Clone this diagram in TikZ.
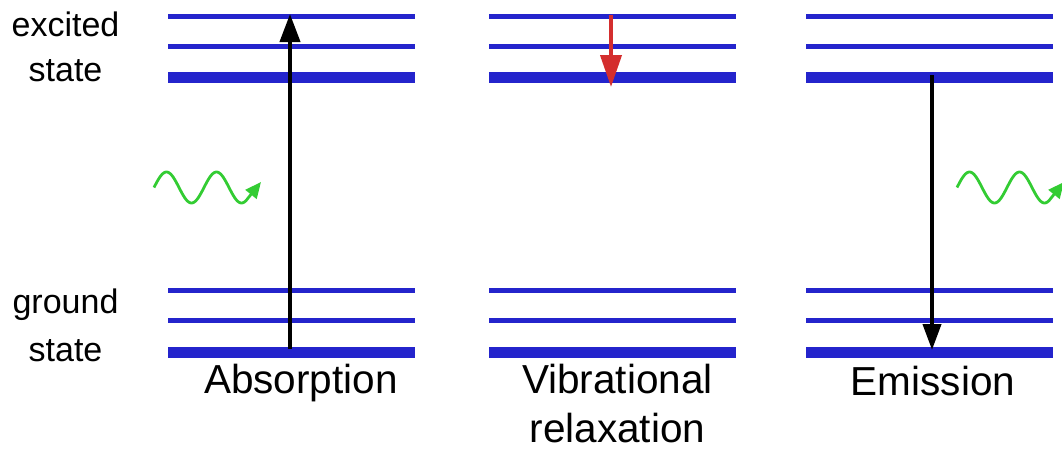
\documentclass[tikz,border=0pt]{standalone}
\usepackage{fontspec}
\setmainfont{Liberation Sans}
\usetikzlibrary{arrows.meta}

\definecolor{levelblue}{RGB}{36,36,204}
\definecolor{photongreen}{RGB}{51,204,51}
\definecolor{relaxred}{RGB}{212,46,46}

\tikzset{
  thinlevel/.style={levelblue, line width=5pt},
  thicklevel/.style={levelblue, line width=11pt},
  transition/.style={black, line width=4pt, -{Triangle[length=28pt,width=20pt]}},
  relax/.style={relaxred, line width=4pt, -{Triangle[length=32pt,width=21pt]}},
  photon/.style={photongreen, line width=2.8pt, -{Triangle[length=16pt,width=14pt]}},
  sidelabel/.style={anchor=base, align=center, inner sep=0pt},
  caption/.style={anchor=base, align=center, inner sep=0pt, font=\fontsize{40.5}{49}\selectfont}
}

% one set of energy levels: three excited and three ground levels
\newcommand{\levelset}[2]{%
  \draw[thinlevel]  (#1,16.5)  -- (#2,16.5);
  \draw[thinlevel]  (#1,46.5)  -- (#2,46.5);
  \draw[thicklevel] (#1,77.5)  -- (#2,77.5);
  \draw[thinlevel]  (#1,290.5) -- (#2,290.5);
  \draw[thinlevel]  (#1,320.5) -- (#2,320.5);
  \draw[thicklevel] (#1,352)   -- (#2,352);
}

\begin{document}
\begin{tikzpicture}[x=1pt, y=-1pt]
  \useasboundingbox (0,0) rectangle (1062,450);
  \clip (0,0) rectangle (1062,450);

  % energy levels of the three panels
  \levelset{168}{415}
  \levelset{489}{736}
  \levelset{806}{1053}

  % state labels (base anchor sits on the last line)
  \node[sidelabel, font=\fontsize{34}{45}\selectfont] (excited) at (65.5,81) {excited\\state};
  \node[sidelabel, font=\fontsize{34}{48}\selectfont] (ground) at (65.5,361) {ground\\state};

  % panel captions
  \node[caption] (absorption) at (301,393) {Absorption};
  \node[caption] (vibrational) at (617.5,442) {Vibrational\\relaxation};
  \node[caption] (emission) at (933,395) {Emission};

  % transition end points
  \coordinate (absFrom) at (290,349);
  \coordinate (absTo)   at (290,14);
  \coordinate (vibFrom) at (611,15);
  \coordinate (vibTo)   at (611,87);
  \coordinate (emFrom)  at (932,75);
  \coordinate (emTo)    at (932,350);

  \draw[transition] (absFrom) -- (absTo);
  \draw[relax] (vibFrom) -- (vibTo);
  \draw[transition, -{Triangle[length=26pt,width=18pt]}] (emFrom) -- (emTo);

  % incoming and outgoing photons
  \coordinate (photonInTip)  at (261,182);
  \coordinate (photonOutTip) at (1064,182);
  \draw[photon] plot[domain=0:94, samples=80] ({154+\x},{187.5-15.5*sin(\x*7.2)}) -- (photonInTip);
  \draw[photon] plot[domain=0:94, samples=80] ({957+\x},{187.5-15.5*sin(\x*7.2)}) -- (photonOutTip);
\end{tikzpicture}
\end{document}
